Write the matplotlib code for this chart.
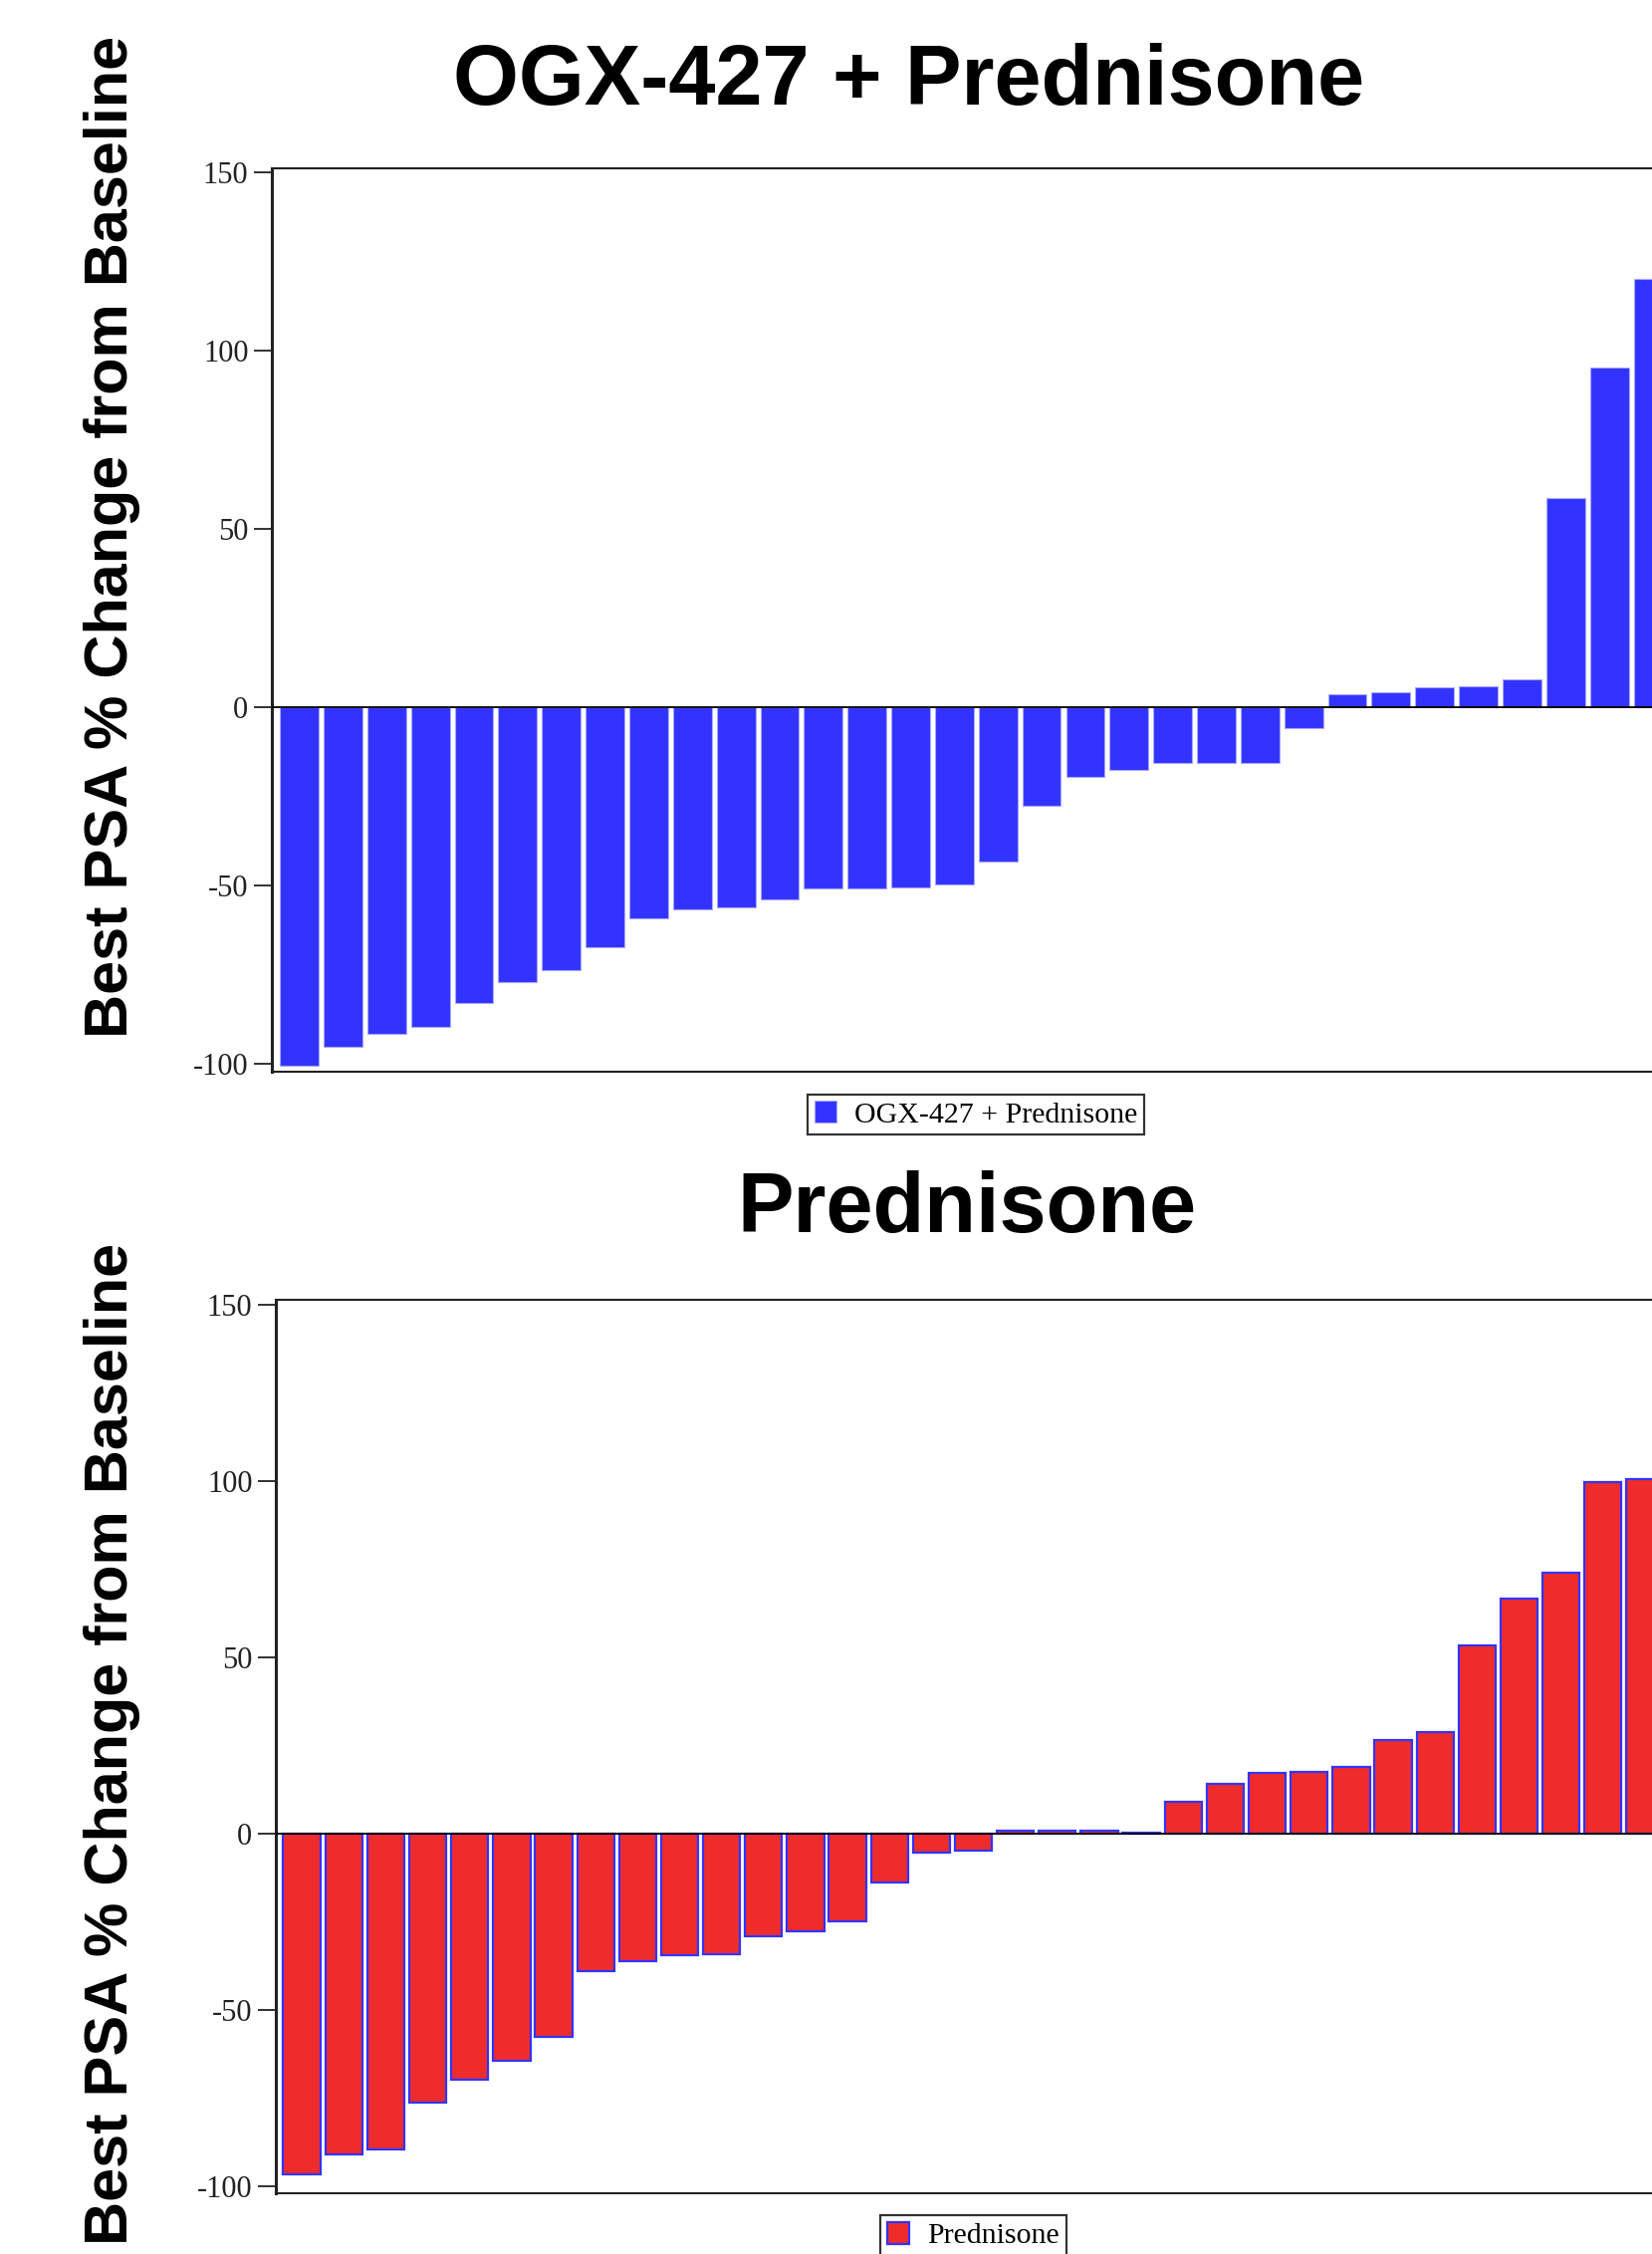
import matplotlib
matplotlib.use("Agg")
import matplotlib.pyplot as plt

# Best PSA % change from baseline, sorted per patient
ogx_pred = [-100.4, -95.2, -91.7, -89.6, -82.9, -77.2, -73.6, -67.3, -59.1, -56.6,
            -56.1, -53.9, -50.9, -50.9, -50.6, -49.8, -43.3, -27.5, -19.4, -17.7,
            -15.6, -15.6, -15.6, -5.9, 3.7, 4.2, 5.7, 6.0, 7.8, 58.7, 95.2, 120.0]
pred_only = [-96.7, -91.1, -89.6, -76.4, -69.9, -64.5, -57.7, -39.0, -36.3, -34.4,
             -34.1, -29.1, -27.8, -25.0, -14.0, -5.5, -4.8, 0.85, 0.85, 0.85,
             0.35, 9.0, 14.2, 17.2, 17.6, 19.0, 26.6, 28.9, 53.4, 66.6, 74.0,
             99.8, 100.5]
y_ticks = [-100, -50, 0, 50, 100, 150]

titles = ["OGX-427 + Prednisone", "Prednisone"]
labels = ["OGX-427 + Prednisone", "Prednisone"]
ylabel = "Best PSA % Change from Baseline"

W, H = 1659, 2263
fig = plt.figure(figsize=(W / 100, H / 100), dpi=100)


def panel(values, left, top, bottom, pitch, xpad, ylim, face, edge, lw, label):
    n = len(values)
    x0, x1 = -xpad, n - 1 + xpad
    width = (x1 - x0) * pitch
    ax = fig.add_axes([left / W, 1 - bottom / H, width / W, (bottom - top) / H])
    ax.bar(range(n), values, width=0.885, color=face, edgecolor=edge,
           linewidth=lw, label=label, zorder=2)
    ax.axhline(0, color="black", linewidth=1.3, zorder=3)
    ax.set_xlim(x0, x1)
    ax.set_ylim(*ylim)
    ax.set_xticks([])
    ax.set_yticks(y_ticks)
    ax.set_yticklabels([str(t) for t in y_ticks], family="Liberation Serif",
                       fontsize=22, color="#222222")
    ax.tick_params(axis="y", length=13, width=1.3, pad=4, color="#222222")
    for s in ax.spines.values():
        s.set_linewidth(1.5)
        s.set_color("#222222")
    ax.spines["left"].set_linewidth(2.2)
    leg = ax.legend(loc="upper center", bbox_to_anchor=(0.5, -0.025),
                    borderaxespad=0, frameon=True, fancybox=False,
                    prop={"family": "Liberation Serif", "size": 21.5},
                    handlelength=0.75, handleheight=0.75, handletextpad=0.6,
                    borderpad=0.22)
    leg.get_frame().set_edgecolor("black")
    leg.get_frame().set_linewidth(1.6)
    return ax


panel(ogx_pred, 273, 169, 1076, 43.85, 0.63, (-102.2, 151.1),
      "#3333FF", "#A8A8FF", 0.8, labels[0])
panel(pred_only, 277, 1305, 2202, 42.15, 0.62, (-102.0, 151.4),
      "#EE2C2C", "#3333FF", 1.6, labels[1])

fig.text(913 / W, 1 - 105 / H, titles[0], ha="center", va="baseline",
         family="Liberation Sans", weight="bold", fontsize=61)
fig.text(971 / W, 1 - 1237 / H, titles[1], ha="center", va="baseline",
         family="Liberation Sans", weight="bold", fontsize=61)

fig.text(113 / W, 1 - 539 / H, ylabel, rotation=90, ha="center", va="center",
         family="Liberation Sans", weight="bold", fontsize=44)
fig.text(113 / W, 1 - 1751 / H, ylabel, rotation=90, ha="center", va="center",
         family="Liberation Sans", weight="bold", fontsize=44)

fig.savefig("out.png", dpi=100, facecolor="white")
